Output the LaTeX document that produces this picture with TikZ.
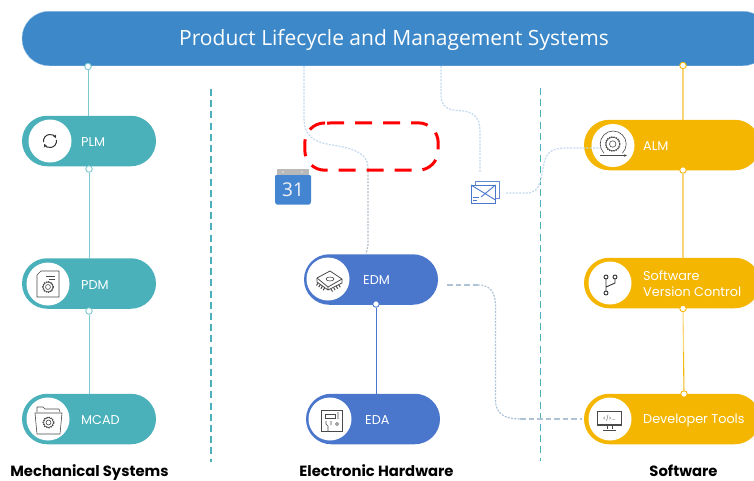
\documentclass[tikz,border=0pt]{standalone}
\usepackage{fontspec}
\setmainfont{Poppins}
\newfontfamily\titlefont{Open Sans}
\usetikzlibrary{shapes.misc,arrows.meta}
\definecolor{barblue}{HTML}{3C88C9}
\definecolor{tealc}{HTML}{4AB1BB}
\definecolor{teall}{HTML}{7CC9CF}
\definecolor{hwblue}{HTML}{4A77CC}
\definecolor{yel}{HTML}{F4B600}
\definecolor{yell}{HTML}{F8D677}
\definecolor{dotblue}{HTML}{C4DAF0}
\definecolor{dotgray}{HTML}{B5BEC8}
\definecolor{dashblue}{HTML}{AFC3D6}
\definecolor{icong}{HTML}{4A4A4A}
\tikzset{
  x=1pt,y=-1pt,
  pill/.style={rounded rectangle,minimum width=#1,minimum height=50.5pt,inner sep=0pt,outer sep=0pt},
  disc/.style={circle,fill=white,minimum size=43pt,inner sep=0pt},
  lab/.style={text=white,font=\fontsize{12.8}{16}\selectfont,anchor=west,inner sep=0pt,align=left},
  grouplab/.style={font=\fontsize{14.8}{16}\selectfont\bfseries,text=black,inner sep=0pt,anchor=base},
  sep/.style={tealc,line width=1.6pt,dash pattern=on 7pt off 4.2pt},
  dotn/.style={circle,fill=white,draw=#1,line width=0.9pt,minimum size=6.5pt,inner sep=0pt},
  softdot/.style={dotblue,line width=1.2pt,dash pattern=on 2pt off 1.3pt},
  softgray/.style={dotgray,line width=1.2pt,dash pattern=on 2pt off 1.3pt},
  softdash/.style={dashblue,line width=1.2pt,dash pattern=on 5.5pt off 3pt},
  softfine/.style={dashblue,line width=1.2pt,dash pattern=on 2pt off 1.3pt},
  ic/.style={icong,line width=0.6pt},
  pics/gear/.style={code={
    \draw[ic,line width=1.1pt,dash pattern=on 1.2pt off 1.1pt] (0,0) circle (#1);
    \draw[ic] (0,0) circle (#1-0.5pt);
    \draw[ic] (0,0) circle (#1*0.45);
  }}
}
\begin{document}
\begin{tikzpicture}
\useasboundingbox (0,0) rectangle (754,480);
\fill[white] (0,0) rectangle (754,480);
% separators
\coordinate (s1a) at (211,89); \coordinate (s1b) at (211,462);
\coordinate (s2a) at (540.5,88); \coordinate (s2b) at (540.5,461);
\draw[sep] (s1a) -- (s1b);
\draw[sep] (s2a) -- (s2b);
% top bar
\begin{scope}
\clip (0,0) rectangle (754,480);
\node[rounded rectangle,fill=barblue,draw=barblue!60!white,line width=0.4pt,minimum width=748pt,minimum height=54.5pt,inner sep=0pt] (bar) at (396,38.5) {};
\node[pill=176pt,fill=yel] (alm) at (672,145) {};
\node[pill=176pt,fill=yel] (svc) at (672,283) {};
\node[pill=176pt,fill=yel] (dev) at (672,419) {};
\end{scope}
\node[text=white,font=\titlefont\fontsize{21}{24}\selectfont,inner sep=0pt] (title) at (394,39.5) {Product Lifecycle and Management Systems};
% pills
\node[pill=134pt,fill=tealc] (plm) at (89,141) {};
\node[pill=134pt,fill=tealc] (pdm) at (89,283.5) {};
\node[pill=134pt,fill=tealc] (mcad) at (89,419) {};
\node[pill=134pt,fill=hwblue] (edm) at (371,279.5) {};
\node[pill=134pt,fill=hwblue] (eda) at (373,419) {};
% connector ends
\node[dotn=teall] (d1) at (88,66.5) {};
\node[dotn=teall] (d2) at (89,169) {};
\node[dotn=teall] (d3) at (89,311) {};
\node[dotn=hwblue] (d4) at (376,304) {};
\node[dotn=yel] (d5) at (683,65.5) {};
\node[dotn=yel] (d6) at (683,170) {};
\node[dotn=yel] (d7) at (683,308.5) {};
\node[dotn=yel] (d8) at (684,394) {};
\coordinate (c1) at (88,116);
\coordinate (c2) at (89,258.2);
\coordinate (c3) at (89,393.8);
\coordinate (c4) at (376,394);
\coordinate (c5) at (683,120);
\coordinate (c6) at (683,258);
\coordinate (c7) at (683.5,352);
\draw[teall,line width=1pt] (d1) -- (c1);
\draw[teall,line width=1pt] (d2) -- (c2);
\draw[teall,line width=1pt] (d3) -- (c3);
\draw[hwblue,line width=1pt] (d4) -- (c4);
\draw[yell,line width=1.1pt] (d5) -- (c5);
\draw[yell,line width=1.1pt] (d6) -- (c6);
\draw[yell,line width=1.1pt] (d7) -- (c7);
\draw[yel!85!yell,line width=1.1pt] (c7) -- (d8);
% discs
\node[disc] (iplm) at (50,141) {};
\node[disc] (ipdm) at (48,284) {};
\node[disc] (imcad) at (48,419) {};
\node[disc] (iedm) at (328,279) {};
\node[disc] (ieda) at (330,419) {};
\node[disc] (ialm) at (613,145.5) {};
\node[disc] (isvc) at (610,283) {};
\node[disc] (idev) at (610,419) {};
% labels
\node[lab] (tplm) at (81,142) {PLM};
\node[lab] (tpdm) at (81,285) {PDM};
\node[lab] (tmcad) at (81,420) {MCAD};
\node[lab] (tedm) at (363,280) {EDM};
\node[lab] (teda) at (365,420) {EDA};
\node[lab] (talm) at (643,146) {ALM};
\node[lab] (tsvc) at (643,284) {Software\\Version Control};
\node[lab] (tdev) at (643,420) {Developer Tools};
\node[grouplab] (m1) at (89.5,476) {Mechanical Systems};
\node[grouplab] (m2) at (376.5,476) {Electronic Hardware};
\node[grouplab] (m3) at (683.5,476) {Software};
% soft connectors
\coordinate (a0) at (304,66);
\coordinate (a3) at (368,168);
\coordinate (b0) at (441,66);
\coordinate (b3) at (480,173);
\coordinate (e0) at (506,193);
\coordinate (e3) at (603,148);
\coordinate (f0) at (447,285);
\coordinate (f1) at (478,285);
\coordinate (f2) at (520,419);
\coordinate (f3) at (582,419);
\draw[softdot] (a0) -- (304,118) .. controls (304,142) and (322,143) .. (338,146) .. controls (355,149) and (368,154) .. (a3);
\draw[softgray] (a3) -- (368,245) -- (366,254);
\draw[softdot] (b0) -- (441,95) .. controls (441,112) and (456,110) .. (464,111) .. controls (476,113) and (480,120) .. (480,132) -- (b3);
\draw[softdot] (e0) -- (527,193) .. controls (542,193) and (541,175) .. (544,163) .. controls (547,152) and (552,148) .. (566,148) -- (e3);
\draw[softdash] (f0) -- (f1);
\draw[softfine] (f1) .. controls (490,285) and (495.5,292) .. (495.5,306) -- (495.5,400) .. controls (495.5,414) and (505,419) .. (f2);
\draw[softdash] (f2) -- (f3);
% red dashed outline
\node[inner sep=0pt,minimum width=133pt,minimum height=47pt] (redbox) at (371.5,146.5) {};
\draw[red,line width=3pt,dash pattern=on 17pt off 11pt,rounded corners=20pt] (327,123) -- (redbox.north east) -- (redbox.south east) -- (redbox.south west) -- (redbox.north west) -- (327,123);
% envelope
\draw[hwblue!85,line width=0.9pt,fill=white] (475,181) rectangle (499,198.5);
\draw[hwblue,line width=1pt,fill=white] (471,185) rectangle (495.5,203.5);
\draw[hwblue,line width=0.9pt] (471,185) -- (495.5,200) (495.5,185) -- (481,197);
\draw[hwblue,line width=0.8pt] (473,197) -- (479,197) (473,200) -- (477,200);
% calendar
\fill[gray!55] (277,168.5) rectangle (309,176);
\fill[rounded corners=1pt,fill=hwblue!90!cyan] (275,175) -- (311,175) -- (311,202) -- (310,204.5) -- (276,204.5) -- (275,202) -- cycle;
\fill[white!70!gray] (283,172) circle (1.1) (302,172) circle (1.1);
\node[text=white!90!gray,font=\titlefont\fontsize{19}{20}\selectfont,inner sep=0pt] (calt) at (293,189.5) {31};
% icons
% PLM refresh
\draw[black!80,line width=1pt,-{Stealth[length=3.5pt,width=3.5pt]}] (43.6,142.1) arc (170:335:6.5);
\draw[black!80,line width=1pt,-{Stealth[length=3.5pt,width=3.5pt]}] (56.4,139.9) arc (-10:155:6.5);
% PDM doc
\draw[ic,line join=round] (41,271) -- (59,271) -- (59,297) -- (37,297) -- (37,275) -- cycle;
\draw[ic] (46,276) -- (55,276) (49,279) -- (55,279);
\pic at (48,287) {gear=5.5pt};
% MCAD folder
\draw[ic,line join=round] (37,412) -- (37,407) -- (43,407) -- (45,409) -- (59,409) -- (60,412);
\draw[ic,line join=round] (35,413) -- (62,413) -- (60,434) -- (37,434) -- cycle;
\pic at (48.5,422.5) {gear=5.5pt};
% EDM chip
\draw[ic,line width=0.8pt,line join=round,fill=white] (317,278) -- (330,271) -- (342,279) -- (328,287) -- cycle;
\draw[ic,line width=0.8pt] (317,278) -- (317,282) -- (328,290) -- (342,283) -- (342,279) (328,287) -- (328,290);
\draw[ic] (330,279) ellipse (4 and 2);
\foreach \i in {0,1,2,3}{
  \draw[ic,line width=1pt] ({318+\i*2.2},{283+\i*1.6}) -- ++(-1.5,2.5);
  \draw[ic,line width=1pt] ({331+\i*2.6},{289-\i*1.4}) -- ++(1.5,2.5);
}
% EDA board
\draw[ic,line width=0.8pt] (321,410) rectangle (342,431);
\draw[ic] (325,414) rectangle (335,418);
\draw[ic] (326,421) -- (326,424) -- (328,426) -- (328,431) (331,421) -- (331,425) (337,424) circle (1.5) (338,412) -- (338,419);
% ALM
\draw[ic] (604,153.2) arc (-225:45:13);
\pic at (612.7,144) {gear=7.2pt};
\draw[ic,-{Stealth[length=3pt,width=2.5pt]}] (600,155.5) -- (627,155.5);
% SVC branch
\draw[black!80,line width=0.9pt] (606,278) -- (606,291) (606,287) -- (615,283) -- (615,279);
\draw[black!80,line width=0.9pt,fill=white] (606,277) circle (2) (615,277) circle (2) (606,293) circle (2);
% Dev monitor
\draw[ic,line width=0.9pt] (597.5,411) rectangle (621.5,425);
\draw[ic,line width=1.5pt] (597.5,425) -- (621.5,425);
\draw[ic] (607,425.5) -- (607,429) (612,425.5) -- (612,429) (603,430) -- (616,430);
\node[icong,font=\fontsize{5.5}{6}\selectfont,inner sep=0pt] (devt) at (609,418) {</>...};
\end{tikzpicture}
\end{document}
